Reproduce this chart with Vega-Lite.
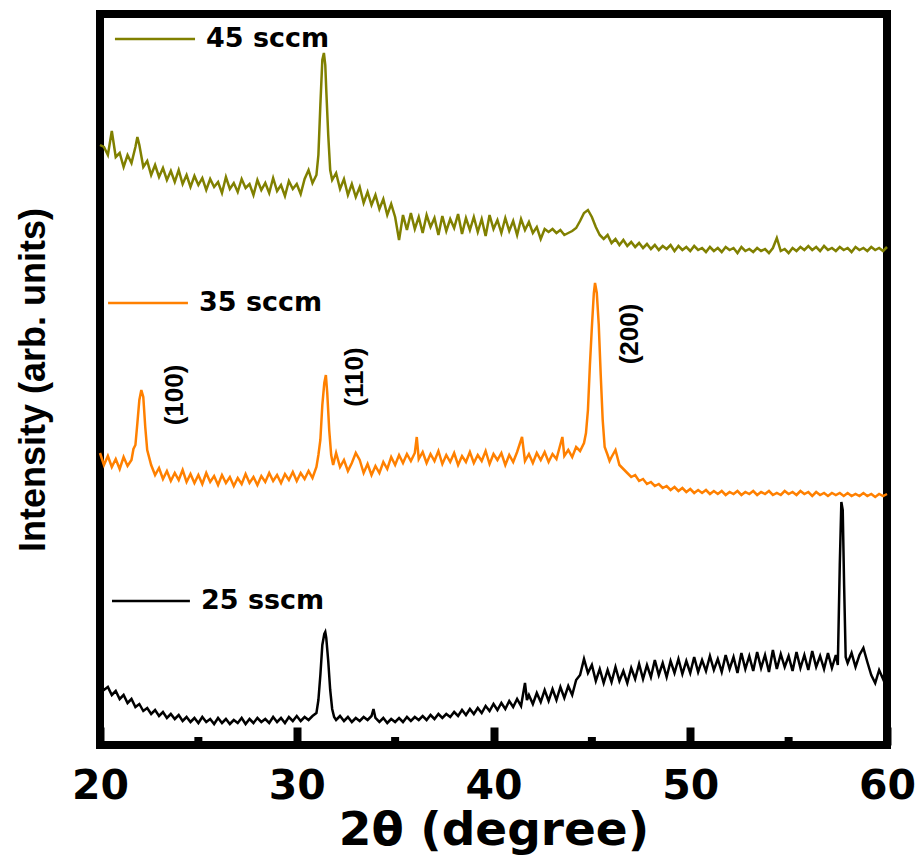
{
  "$schema": "https://vega.github.io/schema/vega-lite/v6.json",
  "width": 787,
  "height": 731,
  "autosize": "none",
  "padding": {"left": 100, "top": 14, "right": 31, "bottom": 111},
  "background": "white",
  "config": {
    "view": {"stroke": "black", "strokeWidth": 8},
    "axisY": {
      "labels": false, "ticks": false, "domain": false, "grid": false,
      "titleFont": "Liberation Sans", "titleFontWeight": "bold", "titleFontSize": 36, "titleColor": "black",
      "titlePadding": 48
    }
  },
  "datasets": {
    "s45": [
      {"x":20.0,"y":600},{"x":20.2,"y":598},{"x":20.4,"y":590},{"x":20.6,"y":614},{"x":20.8,"y":588},{"x":21.0,"y":592},{"x":21.2,"y":578},{"x":21.4,"y":590},{"x":21.6,"y":582},{"x":21.8,"y":598},{"x":21.9,"y":608},{"x":22.0,"y":600},{"x":22.2,"y":578},{"x":22.4,"y":584},{"x":22.6,"y":570},{"x":22.8,"y":580},{"x":23.0,"y":568},{"x":23.2,"y":577},{"x":23.4,"y":565},{"x":23.6,"y":574},{"x":23.8,"y":563},{"x":24.0,"y":575},{"x":24.2,"y":561},{"x":24.4,"y":570},{"x":24.6,"y":558},{"x":24.8,"y":569},{"x":25.0,"y":560},{"x":25.2,"y":567},{"x":25.4,"y":555},{"x":25.6,"y":566},{"x":25.8,"y":558},{"x":26.0,"y":563},{"x":26.2,"y":552},{"x":26.4,"y":568},{"x":26.6,"y":556},{"x":26.8,"y":562},{"x":27.0,"y":553},{"x":27.2,"y":566},{"x":27.4,"y":557},{"x":27.6,"y":561},{"x":27.8,"y":550},{"x":28.0,"y":565},{"x":28.2,"y":555},{"x":28.4,"y":562},{"x":28.6,"y":552},{"x":28.8,"y":567},{"x":29.0,"y":554},{"x":29.2,"y":560},{"x":29.4,"y":549},{"x":29.6,"y":564},{"x":29.8,"y":556},{"x":30.0,"y":561},{"x":30.2,"y":551},{"x":30.4,"y":566},{"x":30.6,"y":575},{"x":30.8,"y":562},{"x":31.0,"y":570},{"x":31.1,"y":590},{"x":31.2,"y":640},{"x":31.3,"y":685},{"x":31.38,"y":692},{"x":31.45,"y":680},{"x":31.5,"y":655},{"x":31.6,"y":610},{"x":31.7,"y":575},{"x":31.8,"y":565},{"x":32.0,"y":572},{"x":32.2,"y":556},{"x":32.4,"y":566},{"x":32.6,"y":550},{"x":32.8,"y":561},{"x":33.0,"y":548},{"x":33.2,"y":558},{"x":33.4,"y":542},{"x":33.6,"y":553},{"x":33.8,"y":540},{"x":34.0,"y":550},{"x":34.2,"y":536},{"x":34.4,"y":546},{"x":34.6,"y":530},{"x":34.8,"y":541},{"x":35.0,"y":528},{"x":35.2,"y":505},{"x":35.4,"y":530},{"x":35.6,"y":515},{"x":35.8,"y":532},{"x":36.0,"y":516},{"x":36.2,"y":528},{"x":36.4,"y":512},{"x":36.6,"y":530},{"x":36.8,"y":518},{"x":37.0,"y":527},{"x":37.2,"y":510},{"x":37.4,"y":529},{"x":37.6,"y":514},{"x":37.8,"y":526},{"x":38.0,"y":517},{"x":38.2,"y":531},{"x":38.4,"y":511},{"x":38.6,"y":527},{"x":38.8,"y":515},{"x":39.0,"y":528},{"x":39.2,"y":513},{"x":39.4,"y":526},{"x":39.6,"y":509},{"x":39.8,"y":530},{"x":40.0,"y":516},{"x":40.2,"y":525},{"x":40.4,"y":512},{"x":40.6,"y":527},{"x":40.8,"y":514},{"x":41.0,"y":524},{"x":41.2,"y":510},{"x":41.4,"y":526},{"x":41.6,"y":515},{"x":41.8,"y":523},{"x":42.0,"y":512},{"x":42.2,"y":518},{"x":42.4,"y":506},{"x":42.6,"y":516},{"x":42.8,"y":513},{"x":43.0,"y":516},{"x":43.2,"y":512},{"x":43.4,"y":515},{"x":43.6,"y":510},{"x":43.8,"y":512},{"x":44.0,"y":514},{"x":44.2,"y":517},{"x":44.4,"y":524},{"x":44.6,"y":532},{"x":44.8,"y":535},{"x":45.0,"y":528},{"x":45.2,"y":518},{"x":45.4,"y":510},{"x":45.6,"y":506},{"x":45.8,"y":510},{"x":46.0,"y":502},{"x":46.2,"y":506},{"x":46.4,"y":500},{"x":46.6,"y":505},{"x":46.8,"y":499},{"x":47.0,"y":503},{"x":47.2,"y":498},{"x":47.4,"y":502},{"x":47.6,"y":497},{"x":47.8,"y":501},{"x":48.0,"y":496},{"x":48.2,"y":500},{"x":48.4,"y":495},{"x":48.6,"y":499},{"x":48.8,"y":496},{"x":49.0,"y":500},{"x":49.2,"y":494},{"x":49.4,"y":499},{"x":49.6,"y":495},{"x":49.8,"y":498},{"x":50.0,"y":494},{"x":50.2,"y":499},{"x":50.4,"y":495},{"x":50.6,"y":497},{"x":50.8,"y":493},{"x":51.0,"y":498},{"x":51.2,"y":494},{"x":51.4,"y":497},{"x":51.6,"y":493},{"x":51.8,"y":498},{"x":52.0,"y":495},{"x":52.2,"y":497},{"x":52.4,"y":492},{"x":52.6,"y":498},{"x":52.8,"y":494},{"x":53.0,"y":496},{"x":53.2,"y":493},{"x":53.4,"y":497},{"x":53.6,"y":494},{"x":53.8,"y":496},{"x":54.0,"y":492},{"x":54.2,"y":497},{"x":54.4,"y":507},{"x":54.6,"y":494},{"x":54.8,"y":496},{"x":55.0,"y":492},{"x":55.2,"y":497},{"x":55.4,"y":494},{"x":55.6,"y":498},{"x":55.8,"y":495},{"x":56.0,"y":499},{"x":56.2,"y":495},{"x":56.4,"y":498},{"x":56.6,"y":494},{"x":56.8,"y":499},{"x":57.0,"y":495},{"x":57.2,"y":497},{"x":57.4,"y":494},{"x":57.6,"y":498},{"x":57.8,"y":495},{"x":58.0,"y":497},{"x":58.2,"y":493},{"x":58.4,"y":498},{"x":58.6,"y":495},{"x":58.8,"y":497},{"x":59.0,"y":494},{"x":59.2,"y":498},{"x":59.4,"y":495},{"x":59.6,"y":497},{"x":59.8,"y":494},{"x":60.0,"y":498}
    ],
    "s35": [
      {"x":20.0,"y":292},{"x":20.2,"y":280},{"x":20.4,"y":289},{"x":20.6,"y":278},{"x":20.8,"y":286},{"x":21.0,"y":276},{"x":21.2,"y":288},{"x":21.4,"y":279},{"x":21.6,"y":285},{"x":21.7,"y":296},{"x":21.8,"y":300},{"x":21.9,"y":322},{"x":22.0,"y":345},{"x":22.1,"y":355},{"x":22.2,"y":348},{"x":22.3,"y":318},{"x":22.4,"y":295},{"x":22.6,"y":280},{"x":22.8,"y":270},{"x":23.0,"y":277},{"x":23.2,"y":266},{"x":23.4,"y":274},{"x":23.6,"y":264},{"x":23.8,"y":272},{"x":24.0,"y":265},{"x":24.2,"y":275},{"x":24.4,"y":263},{"x":24.6,"y":271},{"x":24.8,"y":262},{"x":25.0,"y":270},{"x":25.2,"y":261},{"x":25.4,"y":272},{"x":25.6,"y":263},{"x":25.8,"y":269},{"x":26.0,"y":260},{"x":26.2,"y":270},{"x":26.4,"y":262},{"x":26.6,"y":268},{"x":26.8,"y":259},{"x":27.0,"y":267},{"x":27.2,"y":261},{"x":27.4,"y":271},{"x":27.6,"y":262},{"x":27.8,"y":268},{"x":28.0,"y":260},{"x":28.2,"y":269},{"x":28.4,"y":263},{"x":28.6,"y":272},{"x":28.8,"y":264},{"x":29.0,"y":270},{"x":29.2,"y":262},{"x":29.4,"y":271},{"x":29.6,"y":265},{"x":29.8,"y":273},{"x":30.0,"y":264},{"x":30.2,"y":272},{"x":30.4,"y":266},{"x":30.6,"y":274},{"x":30.8,"y":267},{"x":31.0,"y":278},{"x":31.1,"y":290},{"x":31.2,"y":305},{"x":31.3,"y":340},{"x":31.4,"y":362},{"x":31.48,"y":370},{"x":31.55,"y":352},{"x":31.65,"y":315},{"x":31.75,"y":290},{"x":31.85,"y":280},{"x":32.0,"y":292},{"x":32.2,"y":278},{"x":32.4,"y":285},{"x":32.6,"y":274},{"x":32.8,"y":282},{"x":33.0,"y":292},{"x":33.2,"y":285},{"x":33.4,"y":272},{"x":33.6,"y":281},{"x":33.8,"y":270},{"x":34.0,"y":279},{"x":34.2,"y":272},{"x":34.4,"y":283},{"x":34.6,"y":276},{"x":34.8,"y":288},{"x":35.0,"y":280},{"x":35.2,"y":290},{"x":35.4,"y":282},{"x":35.6,"y":291},{"x":35.8,"y":284},{"x":36.0,"y":292},{"x":36.1,"y":308},{"x":36.2,"y":286},{"x":36.4,"y":293},{"x":36.6,"y":282},{"x":36.8,"y":291},{"x":37.0,"y":284},{"x":37.2,"y":294},{"x":37.4,"y":281},{"x":37.6,"y":290},{"x":37.8,"y":283},{"x":38.0,"y":292},{"x":38.2,"y":280},{"x":38.4,"y":289},{"x":38.6,"y":283},{"x":38.8,"y":293},{"x":39.0,"y":282},{"x":39.2,"y":290},{"x":39.4,"y":284},{"x":39.6,"y":294},{"x":39.8,"y":281},{"x":40.0,"y":291},{"x":40.2,"y":285},{"x":40.4,"y":292},{"x":40.6,"y":280},{"x":40.8,"y":290},{"x":41.0,"y":283},{"x":41.2,"y":293},{"x":41.45,"y":308},{"x":41.6,"y":284},{"x":41.8,"y":291},{"x":42.0,"y":282},{"x":42.2,"y":292},{"x":42.4,"y":285},{"x":42.6,"y":293},{"x":42.8,"y":283},{"x":43.0,"y":291},{"x":43.2,"y":286},{"x":43.5,"y":308},{"x":43.6,"y":289},{"x":43.8,"y":295},{"x":44.0,"y":288},{"x":44.2,"y":298},{"x":44.4,"y":294},{"x":44.6,"y":302},{"x":44.7,"y":312},{"x":44.8,"y":335},{"x":44.9,"y":380},{"x":45.0,"y":418},{"x":45.1,"y":452},{"x":45.16,"y":462},{"x":45.25,"y":452},{"x":45.35,"y":420},{"x":45.45,"y":370},{"x":45.55,"y":325},{"x":45.65,"y":298},{"x":45.8,"y":290},{"x":45.9,"y":284},{"x":46.0,"y":288},{"x":46.2,"y":295},{"x":46.4,"y":280},{"x":46.6,"y":276},{"x":46.8,"y":272},{"x":47.0,"y":268},{"x":47.2,"y":270},{"x":47.4,"y":264},{"x":47.6,"y":266},{"x":47.8,"y":261},{"x":48.0,"y":263},{"x":48.2,"y":259},{"x":48.4,"y":261},{"x":48.6,"y":257},{"x":48.8,"y":259},{"x":49.0,"y":255},{"x":49.2,"y":258},{"x":49.4,"y":254},{"x":49.6,"y":257},{"x":49.8,"y":253},{"x":50.0,"y":256},{"x":50.2,"y":252},{"x":50.4,"y":255},{"x":50.6,"y":252},{"x":50.8,"y":255},{"x":51.0,"y":251},{"x":51.2,"y":254},{"x":51.4,"y":251},{"x":51.6,"y":254},{"x":51.8,"y":250},{"x":52.0,"y":253},{"x":52.2,"y":251},{"x":52.4,"y":254},{"x":52.6,"y":250},{"x":52.8,"y":253},{"x":53.0,"y":251},{"x":53.2,"y":254},{"x":53.4,"y":250},{"x":53.6,"y":253},{"x":53.8,"y":251},{"x":54.0,"y":254},{"x":54.2,"y":250},{"x":54.4,"y":252},{"x":54.6,"y":250},{"x":54.8,"y":254},{"x":55.0,"y":251},{"x":55.2,"y":253},{"x":55.4,"y":250},{"x":55.6,"y":254},{"x":55.8,"y":251},{"x":56.0,"y":253},{"x":56.2,"y":249},{"x":56.4,"y":253},{"x":56.6,"y":250},{"x":56.8,"y":252},{"x":57.0,"y":249},{"x":57.2,"y":252},{"x":57.4,"y":250},{"x":57.6,"y":252},{"x":57.8,"y":249},{"x":58.0,"y":252},{"x":58.2,"y":249},{"x":58.4,"y":251},{"x":58.6,"y":249},{"x":58.8,"y":252},{"x":59.0,"y":249},{"x":59.2,"y":251},{"x":59.4,"y":248},{"x":59.6,"y":251},{"x":59.8,"y":249},{"x":60.0,"y":251}
    ],
    "s25": [
      {"x":20.0,"y":62},{"x":20.2,"y":55},{"x":20.4,"y":58},{"x":20.6,"y":50},{"x":20.8,"y":54},{"x":21.0,"y":46},{"x":21.2,"y":50},{"x":21.4,"y":42},{"x":21.6,"y":46},{"x":21.8,"y":38},{"x":22.0,"y":41},{"x":22.2,"y":34},{"x":22.4,"y":37},{"x":22.6,"y":31},{"x":22.8,"y":35},{"x":23.0,"y":29},{"x":23.2,"y":33},{"x":23.4,"y":27},{"x":23.6,"y":31},{"x":23.8,"y":26},{"x":24.0,"y":30},{"x":24.2,"y":24},{"x":24.4,"y":28},{"x":24.6,"y":23},{"x":24.8,"y":27},{"x":25.0,"y":22},{"x":25.2,"y":28},{"x":25.4,"y":23},{"x":25.6,"y":26},{"x":25.8,"y":21},{"x":26.0,"y":27},{"x":26.2,"y":22},{"x":26.4,"y":26},{"x":26.6,"y":21},{"x":26.8,"y":25},{"x":27.0,"y":22},{"x":27.2,"y":27},{"x":27.4,"y":21},{"x":27.6,"y":26},{"x":27.8,"y":22},{"x":28.0,"y":27},{"x":28.2,"y":23},{"x":28.4,"y":26},{"x":28.6,"y":22},{"x":28.8,"y":28},{"x":29.0,"y":23},{"x":29.2,"y":27},{"x":29.4,"y":22},{"x":29.6,"y":28},{"x":29.8,"y":24},{"x":30.0,"y":29},{"x":30.2,"y":24},{"x":30.4,"y":28},{"x":30.6,"y":25},{"x":30.8,"y":29},{"x":31.0,"y":32},{"x":31.1,"y":45},{"x":31.2,"y":70},{"x":31.3,"y":100},{"x":31.4,"y":111},{"x":31.45,"y":113},{"x":31.5,"y":107},{"x":31.6,"y":84},{"x":31.7,"y":55},{"x":31.8,"y":36},{"x":31.9,"y":28},{"x":32.0,"y":25},{"x":32.2,"y":29},{"x":32.4,"y":24},{"x":32.6,"y":28},{"x":32.8,"y":23},{"x":33.0,"y":27},{"x":33.2,"y":24},{"x":33.4,"y":28},{"x":33.6,"y":25},{"x":33.8,"y":29},{"x":33.9,"y":36},{"x":34.0,"y":27},{"x":34.2,"y":23},{"x":34.4,"y":27},{"x":34.6,"y":22},{"x":34.8,"y":26},{"x":35.0,"y":23},{"x":35.2,"y":27},{"x":35.4,"y":23},{"x":35.6,"y":28},{"x":35.8,"y":24},{"x":36.0,"y":28},{"x":36.2,"y":25},{"x":36.4,"y":29},{"x":36.6,"y":25},{"x":36.8,"y":30},{"x":37.0,"y":26},{"x":37.2,"y":31},{"x":37.4,"y":27},{"x":37.6,"y":31},{"x":37.8,"y":28},{"x":38.0,"y":33},{"x":38.2,"y":29},{"x":38.4,"y":35},{"x":38.6,"y":30},{"x":38.8,"y":36},{"x":39.0,"y":31},{"x":39.2,"y":37},{"x":39.4,"y":32},{"x":39.6,"y":39},{"x":39.8,"y":34},{"x":40.0,"y":41},{"x":40.2,"y":35},{"x":40.4,"y":42},{"x":40.6,"y":36},{"x":40.8,"y":44},{"x":41.0,"y":38},{"x":41.2,"y":46},{"x":41.4,"y":39},{"x":41.6,"y":62},{"x":41.7,"y":45},{"x":41.8,"y":50},{"x":42.0,"y":41},{"x":42.2,"y":52},{"x":42.4,"y":43},{"x":42.6,"y":55},{"x":42.8,"y":44},{"x":43.0,"y":56},{"x":43.2,"y":45},{"x":43.4,"y":58},{"x":43.6,"y":47},{"x":43.8,"y":59},{"x":44.0,"y":50},{"x":44.2,"y":65},{"x":44.4,"y":70},{"x":44.6,"y":86},{"x":44.8,"y":72},{"x":45.0,"y":80},{"x":45.2,"y":64},{"x":45.4,"y":76},{"x":45.6,"y":62},{"x":45.8,"y":75},{"x":46.0,"y":63},{"x":46.2,"y":78},{"x":46.4,"y":64},{"x":46.6,"y":74},{"x":46.8,"y":62},{"x":47.0,"y":77},{"x":47.2,"y":66},{"x":47.4,"y":81},{"x":47.6,"y":66},{"x":47.8,"y":80},{"x":48.0,"y":68},{"x":48.2,"y":85},{"x":48.4,"y":70},{"x":48.6,"y":82},{"x":48.8,"y":68},{"x":49.0,"y":84},{"x":49.2,"y":72},{"x":49.4,"y":86},{"x":49.6,"y":71},{"x":49.8,"y":84},{"x":50.0,"y":72},{"x":50.2,"y":88},{"x":50.4,"y":73},{"x":50.6,"y":85},{"x":50.8,"y":74},{"x":51.0,"y":89},{"x":51.2,"y":75},{"x":51.4,"y":86},{"x":51.6,"y":73},{"x":51.8,"y":90},{"x":52.0,"y":76},{"x":52.2,"y":88},{"x":52.4,"y":72},{"x":52.6,"y":92},{"x":52.8,"y":76},{"x":53.0,"y":89},{"x":53.2,"y":74},{"x":53.4,"y":93},{"x":53.6,"y":77},{"x":53.8,"y":90},{"x":54.0,"y":73},{"x":54.2,"y":95},{"x":54.4,"y":76},{"x":54.6,"y":91},{"x":54.8,"y":78},{"x":55.0,"y":89},{"x":55.2,"y":74},{"x":55.4,"y":93},{"x":55.6,"y":77},{"x":55.8,"y":90},{"x":56.0,"y":75},{"x":56.2,"y":94},{"x":56.4,"y":78},{"x":56.6,"y":89},{"x":56.8,"y":76},{"x":57.0,"y":92},{"x":57.2,"y":77},{"x":57.4,"y":90},{"x":57.5,"y":80},{"x":57.6,"y":180},{"x":57.68,"y":243},{"x":57.75,"y":235},{"x":57.82,"y":160},{"x":57.9,"y":88},{"x":58.0,"y":82},{"x":58.2,"y":92},{"x":58.4,"y":78},{"x":58.6,"y":90},{"x":58.8,"y":97},{"x":59.0,"y":83},{"x":59.2,"y":70},{"x":59.4,"y":62},{"x":59.6,"y":75},{"x":59.8,"y":66},{"x":60.0,"y":80}
    ],
    "legend": [
      {"s":"45 sccm","x":20.76,"x2":24.83,"y":706},
      {"s":"35 sccm","x":20.41,"x2":24.47,"y":442},
      {"s":"25 sscm","x":20.61,"x2":24.57,"y":144}
    ],
    "peaks": [
      {"label":"(100)","x":23.81,"y":350},
      {"label":"(110)","x":32.96,"y":368},
      {"label":"(200)","x":46.94,"y":411}
    ],
    "minorTicks": [{"x":25},{"x":35},{"x":45},{"x":55}]
  },
  "encoding": {
    "x": {
      "field": "x", "type": "quantitative", "title": "2θ (degree)",
      "scale": {"domain": [20, 60], "nice": false, "zero": false},
      "axis": {
        "values": [20, 30, 40, 50, 60],
        "ticks": true, "tickSize": -18, "tickWidth": 8, "tickColor": "black", "tickOpacity": 1,
        "domain": false, "grid": false,
        "labelFont": "DejaVu Sans", "labelFontWeight": "bold", "labelFontSize": 41, "labelColor": "black",
        "labelPadding": 39, "labelFlush": false, "labelOverlap": false,
        "titleFont": "DejaVu Sans", "titleFontWeight": "bold", "titleFontSize": 47, "titleColor": "black",
        "titlePadding": 1
      }
    },
    "color": {
      "type": "nominal",
      "scale": {"domain": ["45 sccm", "35 sccm", "25 sscm"], "range": ["#808000", "#FF8000", "#000000"]},
      "legend": null
    }
  },
  "layer": [
    {"data": {"name": "minorTicks"}, "mark": {"type": "rule", "strokeWidth": 8, "color": "black"},
     "encoding": {"y": {"datum": 0, "type": "quantitative", "title": "Intensity (arb. units)", "scale": {"domain": [0, 731], "nice": false, "zero": false}}, "y2": {"datum": 8}, "color": {"value": "black"}}},
    {"data": {"name": "s45"}, "mark": {"type": "line", "strokeWidth": 2.5},
     "encoding": {"y": {"field": "y", "type": "quantitative", "title": "Intensity (arb. units)", "scale": {"domain": [0, 731], "nice": false, "zero": false}}, "color": {"datum": "45 sccm"}}},
    {"data": {"name": "s35"}, "mark": {"type": "line", "strokeWidth": 2.5},
     "encoding": {"y": {"field": "y", "type": "quantitative", "title": "Intensity (arb. units)", "scale": {"domain": [0, 731], "nice": false, "zero": false}}, "color": {"datum": "35 sccm"}}},
    {"data": {"name": "s25"}, "mark": {"type": "line", "strokeWidth": 2.5},
     "encoding": {"y": {"field": "y", "type": "quantitative", "title": "Intensity (arb. units)", "scale": {"domain": [0, 731], "nice": false, "zero": false}}, "color": {"datum": "25 sscm"}}},
    {"data": {"name": "legend"}, "mark": {"type": "rule", "strokeWidth": 2.5},
     "encoding": {"x2": {"field": "x2"}, "y": {"field": "y", "type": "quantitative", "title": "Intensity (arb. units)", "scale": {"domain": [0, 731], "nice": false, "zero": false}}, "color": {"field": "s"}}},
    {"data": {"name": "legend"}, "mark": {"type": "text", "align": "left", "baseline": "middle", "dx": 11, "font": "DejaVu Sans", "fontWeight": "bold", "fontSize": 27, "color": "black"},
     "encoding": {"x": {"field": "x2", "type": "quantitative", "title": "2θ (degree)"}, "y": {"field": "y", "type": "quantitative", "title": "Intensity (arb. units)", "scale": {"domain": [0, 731], "nice": false, "zero": false}}, "text": {"field": "s"}, "color": {"value": "black"}}},
    {"data": {"name": "peaks"}, "mark": {"type": "text", "angle": 270, "align": "center", "baseline": "middle", "font": "Liberation Sans", "fontWeight": "bold", "fontSize": 26, "color": "black"},
     "encoding": {"y": {"field": "y", "type": "quantitative", "title": "Intensity (arb. units)", "scale": {"domain": [0, 731], "nice": false, "zero": false}}, "text": {"field": "label"}, "color": {"value": "black"}}}
  ]
}
